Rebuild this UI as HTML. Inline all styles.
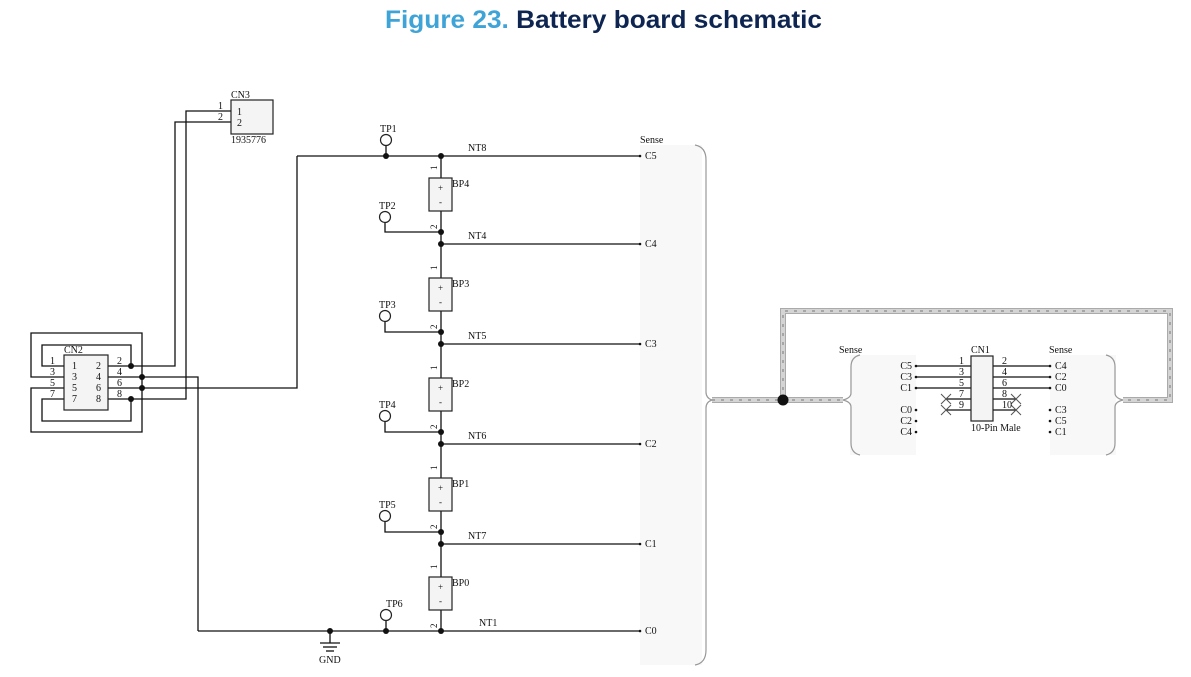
<!DOCTYPE html>
<html><head><meta charset="utf-8"><style>
html,body{margin:0;padding:0;background:#fff;}
svg{display:block;}
text{font-family:"Liberation Serif",serif;font-size:10px;fill:#111;}
.t{font-family:"Liberation Sans",sans-serif;font-weight:bold;font-size:25px;}
</style></head><body>
<svg width="1191" height="677" viewBox="0 0 1191 677" xmlns="http://www.w3.org/2000/svg">
<text x="385" y="28" class="t" textLength="437" lengthAdjust="spacingAndGlyphs"><tspan fill="#3ea3d6">Figure 23.</tspan><tspan fill="#0d2550"> Battery board schematic</tspan></text>

<!-- Sense area main -->
<rect x="640" y="145" width="62" height="520" fill="#f8f8f8"/>
<path d="M695 145 Q706 147 706 160 L706 392 Q706 398 712 400 Q706 402 706 408 L706 650 Q706 663 695 665" fill="none" stroke="#999" stroke-width="1.2"/>
<text x="640" y="143">Sense</text>

<!-- right blobs -->
<rect x="850" y="355" width="66" height="100" fill="#f8f8f8"/>
<path d="M860 355 Q851 357 851 367 L851 393 Q851 398 843 400 Q851 402 851 407 L851 443 Q851 453 860 455" fill="none" stroke="#999" stroke-width="1.2"/>
<rect x="1050" y="355" width="66" height="100" fill="#f8f8f8"/>
<path d="M1106 355 Q1115 357 1115 367 L1115 393 Q1115 398 1123 400 Q1115 402 1115 407 L1115 443 Q1115 453 1106 455" fill="none" stroke="#999" stroke-width="1.2"/>
<text x="839" y="353">Sense</text>
<text x="1049" y="353">Sense</text>

<!-- bus -->
<g fill="none" stroke-linejoin="miter">
<path d="M712 400 L783 400 L783 311 L1170 311 L1170 400 L1123 400 M783 400 L843 400" stroke="#aaa" stroke-width="6"/>
<path d="M712 400 L783 400 L783 311 L1170 311 L1170 400 L1123 400 M783 400 L843 400" stroke="#d4d4d4" stroke-width="4"/>
<path d="M712 400 L783 400 L783 311 L1170 311 L1170 400 L1123 400 M783 400 L843 400" stroke="#777" stroke-width="1" stroke-dasharray="3 6"/>
</g>
<circle cx="783" cy="400" r="5.5" fill="#111"/>

<g stroke="#111" stroke-width="1.3" fill="none">
<line x1="441" y1="156" x2="441" y2="631"/>
<line x1="297" y1="156" x2="640" y2="156"/>
<line x1="441" y1="244" x2="640" y2="244"/>
<line x1="441" y1="344" x2="640" y2="344"/>
<line x1="441" y1="444" x2="640" y2="444"/>
<line x1="441" y1="544" x2="640" y2="544"/>
<line x1="198" y1="631" x2="640" y2="631"/>
<line x1="386" y1="146" x2="386" y2="156"/>
<path d="M385 222 L385 232 L441 232"/>
<path d="M385 321 L385 332 L441 332"/>
<path d="M385 421 L385 432 L441 432"/>
<path d="M385 521 L385 532 L441 532"/>
<line x1="386" y1="620" x2="386" y2="631"/>
<path d="M297 156 L297 388 L108 388"/>
<path d="M108 377 L198 377 L198 631"/>
<path d="M108 366 L175 366 L175 122 L231 122"/>
<path d="M108 399 L186 399 L186 111 L231 111"/>
<path d="M64 366 L42 366 L42 345 L131 345 L131 366"/>
<path d="M64 399 L42 399 L42 421 L131 421 L131 399"/>
<path d="M64 377 L31 377 L31 333 L142 333 L142 432 L31 432 L31 388 L64 388"/>
<line x1="330" y1="631" x2="330" y2="643"/>
<line x1="320" y1="643" x2="340" y2="643"/>
<line x1="323" y1="647" x2="337" y2="647"/>
<line x1="326" y1="651" x2="334" y2="651"/>
<line x1="916" y1="366" x2="971" y2="366"/>
<line x1="916" y1="377" x2="971" y2="377"/>
<line x1="916" y1="388" x2="971" y2="388"/>
<line x1="946" y1="399" x2="971" y2="399"/>
<line x1="946" y1="410" x2="971" y2="410"/>
<line x1="993" y1="366" x2="1050" y2="366"/>
<line x1="993" y1="377" x2="1050" y2="377"/>
<line x1="993" y1="388" x2="1050" y2="388"/>
<line x1="993" y1="399" x2="1016" y2="399"/>
<line x1="993" y1="410" x2="1016" y2="410"/>
</g>
<g stroke="#555" stroke-width="1" fill="none">
<path d="M941 394 L951 404 M951 394 L941 404 M941 405 L951 415 M951 405 L941 415"/>
<path d="M1011 394 L1021 404 M1021 394 L1011 404 M1011 405 L1021 415 M1021 405 L1011 415"/>
</g>

<g stroke="#222" stroke-width="1.2" fill="#f4f4f4">
<rect x="231" y="100" width="42" height="34"/>
<rect x="64" y="355" width="44" height="55"/>
<rect x="971" y="356" width="22" height="65"/>
<rect x="429" y="178" width="23" height="33"/>
<rect x="429" y="278" width="23" height="33"/>
<rect x="429" y="378" width="23" height="33"/>
<rect x="429" y="478" width="23" height="33"/>
<rect x="429" y="577" width="23" height="33"/>
</g>
<g stroke="#222" stroke-width="1.2" fill="#fff">
<circle cx="386" cy="140" r="5.5"/>
<circle cx="385" cy="217" r="5.5"/>
<circle cx="385" cy="316" r="5.5"/>
<circle cx="385" cy="416" r="5.5"/>
<circle cx="385" cy="516" r="5.5"/>
<circle cx="386" cy="615" r="5.5"/>
</g>
<g fill="#111">
<circle cx="386" cy="156" r="3"/><circle cx="441" cy="156" r="3"/>
<circle cx="441" cy="232" r="3"/><circle cx="441" cy="244" r="3"/>
<circle cx="441" cy="332" r="3"/><circle cx="441" cy="344" r="3"/>
<circle cx="441" cy="432" r="3"/><circle cx="441" cy="444" r="3"/>
<circle cx="441" cy="532" r="3"/><circle cx="441" cy="544" r="3"/>
<circle cx="441" cy="631" r="3"/><circle cx="386" cy="631" r="3"/><circle cx="330" cy="631" r="3"/>
<circle cx="131" cy="366" r="3"/><circle cx="142" cy="377" r="3"/>
<circle cx="142" cy="388" r="3"/><circle cx="131" cy="399" r="3"/>
<circle cx="640" cy="156" r="1.3"/><circle cx="640" cy="244" r="1.3"/><circle cx="640" cy="344" r="1.3"/>
<circle cx="640" cy="444" r="1.3"/><circle cx="640" cy="544" r="1.3"/><circle cx="640" cy="631" r="1.3"/>
<circle cx="916" cy="366" r="1.3"/><circle cx="916" cy="377" r="1.3"/><circle cx="916" cy="388" r="1.3"/>
<circle cx="916" cy="410" r="1.3"/><circle cx="916" cy="421" r="1.3"/><circle cx="916" cy="432" r="1.3"/>
<circle cx="1050" cy="366" r="1.3"/><circle cx="1050" cy="377" r="1.3"/><circle cx="1050" cy="388" r="1.3"/>
<circle cx="1050" cy="410" r="1.3"/><circle cx="1050" cy="421" r="1.3"/><circle cx="1050" cy="432" r="1.3"/>
</g>

<text x="645" y="159">C5</text><text x="645" y="247">C4</text><text x="645" y="347">C3</text>
<text x="645" y="447">C2</text><text x="645" y="547">C1</text><text x="645" y="634">C0</text>
<text x="468" y="151">NT8</text><text x="468" y="239">NT4</text><text x="468" y="339">NT5</text>
<text x="468" y="439">NT6</text><text x="468" y="539">NT7</text><text x="479" y="626">NT1</text>
<text x="380" y="132">TP1</text><text x="379" y="209">TP2</text><text x="379" y="308">TP3</text>
<text x="379" y="408">TP4</text><text x="379" y="508">TP5</text><text x="386" y="607">TP6</text>
<text x="452" y="187">BP4</text><text x="452" y="287">BP3</text><text x="452" y="387">BP2</text>
<text x="452" y="487">BP1</text><text x="452" y="586">BP0</text>
<g>
<text x="438" y="191" style="font-size:9px">+</text><text x="439" y="205" style="font-size:9px">-</text>
<text x="438" y="291" style="font-size:9px">+</text><text x="439" y="305" style="font-size:9px">-</text>
<text x="438" y="391" style="font-size:9px">+</text><text x="439" y="405" style="font-size:9px">-</text>
<text x="438" y="491" style="font-size:9px">+</text><text x="439" y="505" style="font-size:9px">-</text>
<text x="438" y="590" style="font-size:9px">+</text><text x="439" y="604" style="font-size:9px">-</text>
</g>
<g>
<text transform="translate(437,170) rotate(-90)" style="font-size:9px">1</text>
<text transform="translate(437,229) rotate(-90)" style="font-size:9px">2</text>
<text transform="translate(437,270) rotate(-90)" style="font-size:9px">1</text>
<text transform="translate(437,329) rotate(-90)" style="font-size:9px">2</text>
<text transform="translate(437,370) rotate(-90)" style="font-size:9px">1</text>
<text transform="translate(437,429) rotate(-90)" style="font-size:9px">2</text>
<text transform="translate(437,470) rotate(-90)" style="font-size:9px">1</text>
<text transform="translate(437,529) rotate(-90)" style="font-size:9px">2</text>
<text transform="translate(437,569) rotate(-90)" style="font-size:9px">1</text>
<text transform="translate(437,628) rotate(-90)" style="font-size:9px">2</text>
</g>
<text x="319" y="663">GND</text>
<text x="231" y="98">CN3</text>
<text x="218" y="109">1</text><text x="218" y="120">2</text>
<text x="237" y="115">1</text><text x="237" y="126">2</text>
<text x="231" y="143">1935776</text>
<text x="64" y="353">CN2</text>
<text x="50" y="364">1</text><text x="50" y="375">3</text><text x="50" y="386">5</text><text x="50" y="397">7</text>
<text x="72" y="369">1</text><text x="72" y="380">3</text><text x="72" y="391">5</text><text x="72" y="402">7</text>
<text x="96" y="369">2</text><text x="96" y="380">4</text><text x="96" y="391">6</text><text x="96" y="402">8</text>
<text x="117" y="364">2</text><text x="117" y="375">4</text><text x="117" y="386">6</text><text x="117" y="397">8</text>
<text x="971" y="353">CN1</text>
<text x="959" y="364">1</text><text x="959" y="375">3</text><text x="959" y="386">5</text><text x="959" y="397">7</text><text x="959" y="408">9</text>
<text x="1002" y="364">2</text><text x="1002" y="375">4</text><text x="1002" y="386">6</text><text x="1002" y="397">8</text><text x="1002" y="408">10</text>
<text x="971" y="431">10-Pin Male</text>
<g text-anchor="end">
<text x="912" y="369">C5</text><text x="912" y="380">C3</text><text x="912" y="391">C1</text>
<text x="912" y="413">C0</text><text x="912" y="424">C2</text><text x="912" y="435">C4</text>
</g>
<text x="1055" y="369">C4</text><text x="1055" y="380">C2</text><text x="1055" y="391">C0</text>
<text x="1055" y="413">C3</text><text x="1055" y="424">C5</text><text x="1055" y="435">C1</text>
</svg>
</body></html>
